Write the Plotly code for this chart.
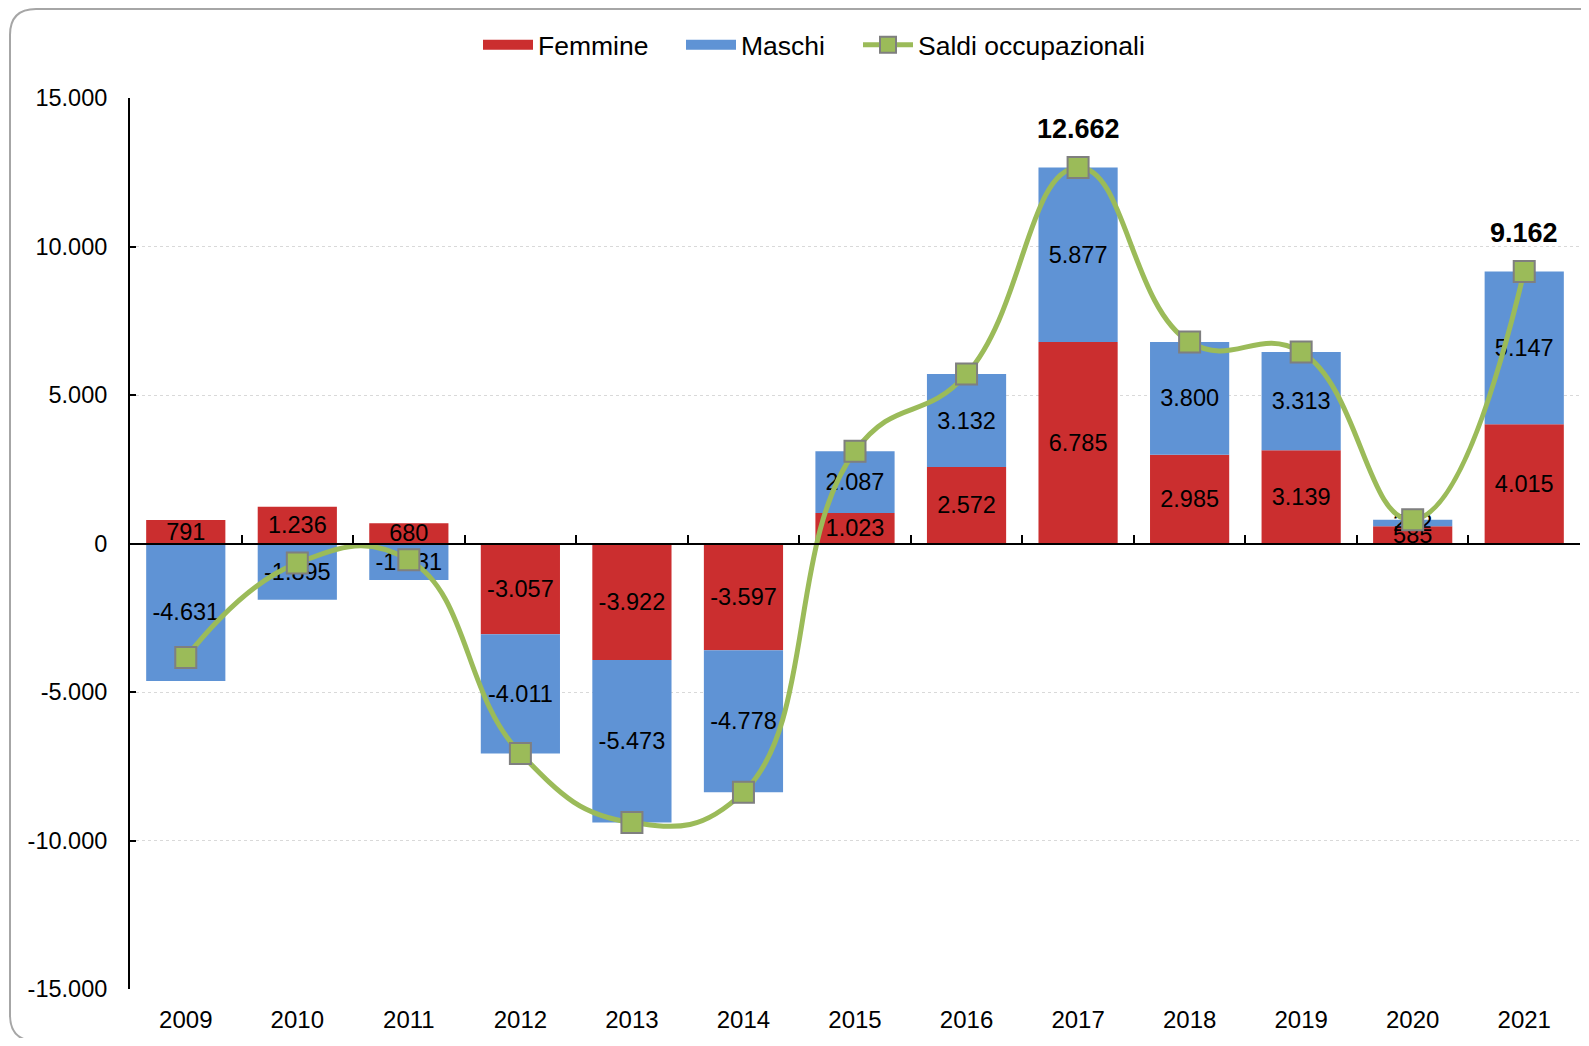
import plotly.graph_objects as go

years = ["2009", "2010", "2011", "2012", "2013", "2014", "2015", "2016", "2017", "2018", "2019", "2020", "2021"]
femmine = [791, 1236, 680, -3057, -3922, -3597, 1023, 2572, 6785, 2985, 3139, 585, 4015]
maschi = [-4631, -1895, -1231, -4011, -5473, -4778, 2087, 3132, 5877, 3800, 3313, 212, 5147]
saldi = [f + m for f, m in zip(femmine, maschi)]
label_years = ["2017", "2021"]
y_ticks = [-15000, -10000, -5000, 0, 5000, 10000, 15000]


def fmt(v):
    return f"{v:,}".replace(",", ".")


# page body has an 8px margin; figure is laid out in its own coordinates
O = 8
W, H = 1589 - 2 * O, 1046 - 2 * O
L, T = 130 - O, 98 - O
PR, PB = 1580 - O, 989 - O
R, B = W - PR, H - PB
PW, PH = PR - L, PB - T
FONT = "Liberation Sans, Arial, sans-serif"

RED = "#CB2E2F"
BLUE = "#5F93D5"
GREEN = "#9BBB59"
LBL = dict(family=FONT, size=23.5, color="black")

fig = go.Figure()
fig.add_trace(go.Bar(
    x=years, y=femmine, name="Femmine", marker=dict(color=RED, line=dict(width=0)),
    text=[fmt(v) for v in femmine], textposition="inside", insidetextanchor="middle",
    constraintext="none", textangle=0, textfont=LBL, showlegend=False, hoverinfo="skip",
))
fig.add_trace(go.Bar(
    x=years, y=maschi, name="Maschi", marker=dict(color=BLUE, line=dict(width=0)),
    text=[fmt(v) for v in maschi], textposition="inside", insidetextanchor="middle",
    constraintext="none", textangle=0, textfont=LBL, showlegend=False, hoverinfo="skip",
))
fig.add_trace(go.Scatter(
    x=years, y=saldi, name="Saldi occupazionali", mode="lines+markers",
    line=dict(color=GREEN, width=5, shape="spline", smoothing=1.3),
    marker=dict(symbol="square", size=21, color=GREEN, line=dict(color="#7F7F7F", width=2)),
    showlegend=False, hoverinfo="skip",
))
# legend entries (wide swatches like the original)
fig.add_trace(go.Scatter(x=[None], y=[None], mode="lines", name="Femmine", legendwidth=138,
                         line=dict(color=RED, width=15), hoverinfo="skip"))
fig.add_trace(go.Scatter(x=[None], y=[None], mode="lines", name="Maschi", legendwidth=112,
                         line=dict(color=BLUE, width=15), hoverinfo="skip"))
fig.add_trace(go.Scatter(x=[None], y=[None], mode="lines+markers", name="Saldi occupazionali",
                         line=dict(color=GREEN, width=5),
                         marker=dict(symbol="square", size=17, color=GREEN,
                                     line=dict(color="#7F7F7F", width=2)),
                         hoverinfo="skip"))
# helper trace for the x axis drawn at y = 0
fig.add_trace(go.Scatter(
    x=years, y=[0] * len(years), xaxis="x2", yaxis="y", mode="markers",
    marker=dict(opacity=0), showlegend=False, hoverinfo="skip",
))

for i, (yr, s) in enumerate(zip(years, saldi)):
    if yr in label_years:
        fig.add_annotation(x=i, y=s, xref="x", yref="y", text=f"<b>{fmt(s)}</b>",
                           showarrow=False, yshift=38,
                           font=dict(family=FONT, size=27, color="black"))


def px(x):
    return (x - O - L) / PW


def py(y):
    return (PB - (y - O)) / PH


# rounded outer frame (full-page pixel coordinates)
x0, y0, x1, y1, r = 10, 9, 1620, 1041, 26
path = (f"M {px(x1)},{py(y0)} L {px(x0 + r)},{py(y0)} Q {px(x0)},{py(y0)} {px(x0)},{py(y0 + r)} "
        f"L {px(x0)},{py(y1 - r)} Q {px(x0)},{py(y1)} {px(x0 + r)},{py(y1)} L {px(x1)},{py(y1)}")
fig.add_shape(type="path", path=path, xref="paper", yref="paper",
              line=dict(color="#A6A6A6", width=2), layer="below")

fig.update_layout(
    width=W, height=H,
    margin=dict(l=L, r=R, t=T, b=B, pad=0),
    paper_bgcolor="white", plot_bgcolor="white",
    barmode="relative", bargap=0.29,
    separators=",.",
    font=dict(family=FONT, size=23, color="black"),
    legend=dict(orientation="h", x=px(814), xanchor="center", y=py(45), yanchor="middle",
                traceorder="normal", font=dict(family=FONT, size=26.5, color="black"),
                itemwidth=50, bgcolor="rgba(0,0,0,0)"),
    xaxis=dict(type="category", categoryorder="array", categoryarray=years, range=[-0.5, 12.5],
               showline=False, showgrid=False, zeroline=False, ticks="",
               tickfont=dict(family=FONT, size=24, color="black"), ticklabelstandoff=14),
    xaxis2=dict(type="category", categoryorder="array", categoryarray=years, range=[-0.5, 12.5],
                overlaying="x", anchor="free", position=0.5, side="bottom",
                showline=True, linecolor="black", linewidth=2,
                ticks="inside", tickson="boundaries", ticklen=8, tickwidth=2, tickcolor="black",
                showticklabels=False, showgrid=False, zeroline=False),
    yaxis=dict(range=[-15000, 15000], tickvals=y_ticks, ticktext=[fmt(v) for v in y_ticks],
               showline=True, linecolor="black", linewidth=2,
               ticks="inside", ticklen=6, tickwidth=2, tickcolor="black",
               showgrid=True, gridcolor="#D9D9D9", griddash="dot", gridwidth=1,
               zeroline=False, tickfont=dict(family=FONT, size=23.5, color="black"),
               ticklabelstandoff=16),
)

fig.write_html("out.html")
